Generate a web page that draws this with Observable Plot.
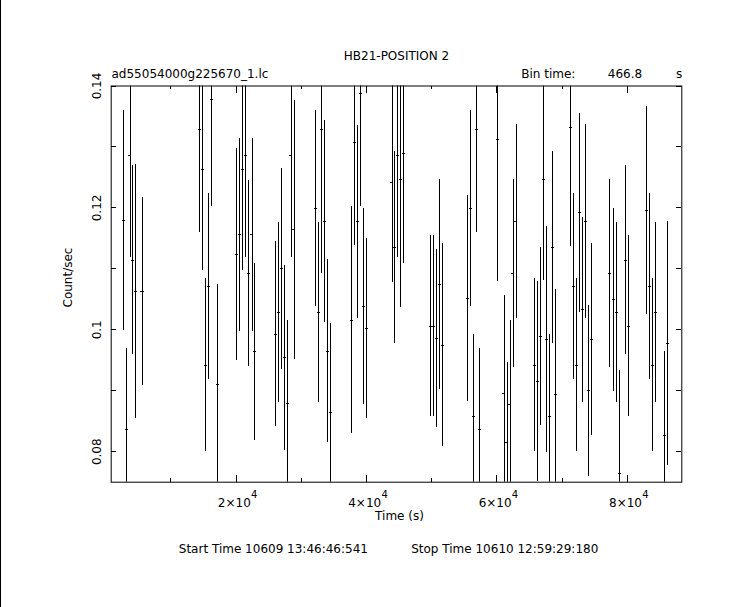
<!DOCTYPE html>
<html><head><meta charset="utf-8">
<script src="https://cdn.jsdelivr.net/npm/d3@7"></script>
<script src="https://cdn.jsdelivr.net/npm/@observablehq/plot@0.6"></script>
<style>
html,body{margin:0;padding:0;background:#fff;}
#chart{position:relative;width:743px;height:607px;overflow:hidden;}
#chart svg{position:absolute;left:0;top:0;}
#chart svg line{shape-rendering:crispEdges;}
#edge{position:absolute;left:0;top:0;width:1px;height:607px;background:#000;}
</style></head><body><div id="chart"></div>
<script>
// Light curve bins: time (s), count rate (count/s), 1-sigma error
const times = [2792,3252,3773,4173,4633,5660,
  14450,14911,15371,15831,16292,17212,
  20126,20586,21047,21507,21967,22488,22887,
  26109,26569,27030,27490,27950,28472,28932,
  32245,32705,33165,33625,34086,34546,
  37767,38227,38687,39148,39608,40068,
  43930,44365,44825,45285,45745,
  49886,50346,50807,51267,51727,
  55563,56023,56484,56944,57404,
  60163,61145,61605,62065,62526,62986,
  65840,66301,66761,67221,67681,68142,68602,69062,
  71362,71822,72283,72743,73203,73663,74124,74584,
  77344,77913,78373,78876,79797,80257,
  82974,83434,83895,84355,85785,86246];
const rates = [0.1179,0.0836,0.1286,0.1114,0.1063,0.1063,
  0.1329,0.1263,0.0942,0.1071,0.1378,0.0910,
  0.1124,0.1156,0.1263,0.1286,0.1092,0.1156,0.0964,
  0.0993,0.1028,0.1100,0.0954,0.0879,0.1286,0.1164,
  0.1199,0.1028,0.1328,0.1178,0.0965,0.0865,
  0.1016,0.1307,0.1177,0.1387,0.1038,0.1002,
  0.1241,0.1135,0.1286,0.1246,0.1289,
  0.1006,0.1006,0.0985,0.1074,0.0975,
  0.1051,0.1199,0.0857,0.1329,0.0836,
  0.1312,0.0896,0.0815,0.0878,0.1092,0.1178,
  0.0942,0.0915,0.0989,0.1247,0.0984,0.0858,0.1135,0.0894,
  0.1332,0.1071,0.0942,0.1192,0.1033,0.1178,0.0900,0.0984,
  0.1092,0.1049,0.1028,0.0765,0.1114,0.1006,
  0.1196,0.1071,0.0942,0.1028,0.0827,0.0977];
const errors = [0.0180,0.0134,0.0168,0.0155,0.0209,0.0154,
  0.0170,0.0165,0.0142,0.0152,0.0175,0.0165,
  0.0174,0.0158,0.0165,0.0168,0.0153,0.0158,0.0145,
  0.0152,0.0148,0.0165,0.0152,0.0136,0.0168,0.0213,
  0.0161,0.0148,0.0235,0.0166,0.0150,0.0145,
  0.0186,0.0168,0.0159,0.0185,0.0161,0.0148,
  0.0163,0.0157,0.0168,0.0209,0.0180,
  0.0148,0.0148,0.0146,0.0172,0.0166,
  0.0169,0.0161,0.0135,0.0170,0.0134,
  0.0233,0.0160,0.0132,0.0138,0.0154,0.0159,
  0.0142,0.0164,0.0146,0.0166,0.0186,0.0135,0.0157,0.0172,
  0.0195,0.0152,0.0142,0.0163,0.0152,0.0159,0.0140,0.0158,
  0.0154,0.0150,0.0148,0.0168,0.0155,0.0148,
  0.0171,0.0152,0.0142,0.0148,0.0138,0.0200];
const binTime = 466.8;
const xDomain = [859, 88372];
const yDomain = [0.075, 0.14];
const xMajorTicks = [20000, 40000, 60000, 80000];
const xMinorTicks = [10000, 30000, 50000, 70000];
const yMajorTicks = [0.08, 0.1, 0.12, 0.14];
const yMinorTicks = [0.09, 0.11, 0.13];
const xExponent = "4";
const titleText = "HB21-POSITION 2";
const fileText = "ad55054000g225670_1.lc";
const binLabel = "Bin time:";
const binValue = "466.8";
const binUnit = "s";
const xLabel = "Time (s)";
const yLabel = "Count/sec";
const startText = "Start Time 10609 13:46:46:541";
const stopText = "Stop Time 10610 12:59:29:180";

const rows = times.map((t, i) => ({t, rate: rates[i], err: errors[i]}));

const W = 743, H = 607, mL = 110.7, mR = 61.7, mT = 85.5, mB = 125.3;
const fW = W - mL - mR, fH = H - mT - mB;
const majX = 7, minX = 3.5, tickY = 5;
const txt = {fill: "black", fontSize: 12, lineAnchor: "bottom"};

const chart = Plot.plot({
  width: W, height: H,
  marginLeft: mL, marginRight: mR, marginTop: mT, marginBottom: mB,
  style: {fontFamily: "DejaVu Sans", fontSize: "12px", color: "black", background: "white"},
  x: {domain: xDomain, axis: null},
  y: {domain: yDomain, axis: null},
  marks: [
    // error bars
    Plot.ruleX(rows, {x: "t", y1: d => d.rate - d.err, y2: d => d.rate + d.err, stroke: "black", strokeWidth: 1, clip: true}),
    Plot.ruleY(rows, {y: "rate", x1: d => d.t - binTime / 2, x2: d => d.t + binTime / 2, stroke: "black", strokeWidth: 1, clip: true}),
    // inward ticks on all four sides
    Plot.ruleX(xMajorTicks, {x: d => d, insetTop: fH - majX, stroke: "black"}),
    Plot.ruleX(xMajorTicks, {x: d => d, insetBottom: fH - majX, stroke: "black"}),
    Plot.ruleX(xMinorTicks, {x: d => d, insetTop: fH - minX, stroke: "black"}),
    Plot.ruleX(xMinorTicks, {x: d => d, insetBottom: fH - minX, stroke: "black"}),
    Plot.ruleY(yMajorTicks.concat(yMinorTicks), {y: d => d, insetRight: fW - tickY, stroke: "black"}),
    Plot.ruleY(yMajorTicks.concat(yMinorTicks), {y: d => d, insetLeft: fW - tickY, stroke: "black"}),
    Plot.frame({stroke: "black"}),
    // tick labels (mantissa and superscript exponent)
    Plot.text(xMajorTicks, {...txt, x: d => d, text: d => `${d / 1e4}×10`, frameAnchor: "bottom", dx: -1.7, dy: 25}),
    Plot.text(xMajorTicks, {...txt, fontSize: 10, x: d => d, text: () => xExponent, frameAnchor: "bottom", textAnchor: "start", dx: 15, dy: 16}),
    Plot.text(yMajorTicks, {...txt, y: d => d, text: d => String(d), frameAnchor: "left", dx: -10.7, rotate: -90, textAnchor: "middle"}),
    // axis labels
    Plot.text([xLabel], {...txt, text: d => d, frameAnchor: "bottom", dx: 3, dy: 37.3}),
    Plot.text([yLabel], {...txt, text: d => d, frameAnchor: "left", dx: -39, dy: -6.6, rotate: -90, textAnchor: "middle"}),
    // header
    Plot.text([titleText], {...txt, text: d => d, frameAnchor: "top", dy: -26.2}),
    Plot.text([fileText], {...txt, text: d => d, frameAnchor: "top-left", textAnchor: "start", dx: 0.3, dy: -8.2}),
    Plot.text([binLabel], {...txt, text: d => d, frameAnchor: "top-left", textAnchor: "start", dx: 410, dy: -8.2}),
    Plot.text([binValue], {...txt, text: d => d, frameAnchor: "top-right", textAnchor: "end", dx: -39.6, dy: -8.2}),
    Plot.text([binUnit], {...txt, text: d => d, frameAnchor: "top-right", textAnchor: "end", dx: 0.4, dy: -8.2}),
    // footer
    Plot.text([startText], {...txt, text: d => d, frameAnchor: "bottom-left", textAnchor: "start", dx: 67.6, dy: 70.3}),
    Plot.text([stopText], {...txt, text: d => d, frameAnchor: "bottom-left", textAnchor: "start", dx: 300, dy: 70.3})
  ]
});
const host = document.getElementById("chart");
host.appendChild(chart);
const edge = document.createElement("div");
edge.id = "edge";
host.appendChild(edge);
</script>
</body></html>
